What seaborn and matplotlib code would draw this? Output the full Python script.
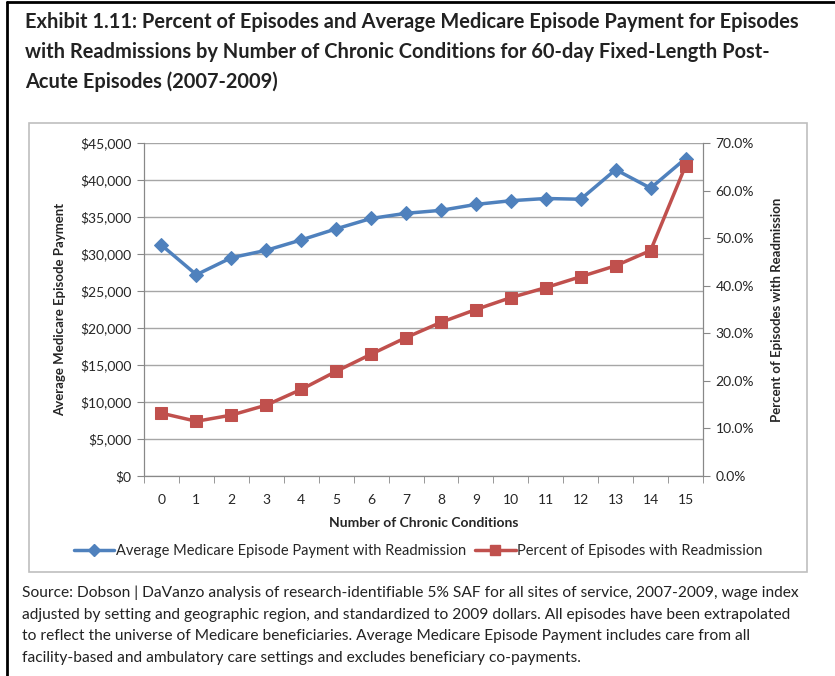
import matplotlib
matplotlib.use("Agg")
import matplotlib.pyplot as plt
import matplotlib.ticker as mticker
from matplotlib.lines import Line2D
from matplotlib.patches import Rectangle
import seaborn as sns
import pandas as pd

conditions = list(range(16))
avg_payment = [31200, 27200, 29500, 30500, 31900, 33400, 34800, 35500,
               35900, 36700, 37200, 37500, 37400, 41400, 38900, 42900]
pct_readmit = [13.2, 11.5, 12.8, 14.9, 18.2, 22.0, 25.6, 29.1,
               32.3, 35.0, 37.5, 39.6, 41.9, 44.2, 47.4, 65.2]

title = ("Exhibit 1.11: Percent of Episodes and Average Medicare Episode Payment for Episodes\n"
         "with Readmissions by Number of Chronic Conditions for 60-day Fixed-Length Post-\n"
         "Acute Episodes (2007-2009)")
source = ("Source: Dobson | DaVanzo analysis of research-identifiable 5% SAF for all sites of service, 2007-2009, wage index\n"
          "adjusted by setting and geographic region, and standardized to 2009 dollars. All episodes have been extrapolated\n"
          "to reflect the universe of Medicare beneficiaries. Average Medicare Episode Payment includes care from all\n"
          "facility-based and ambulatory care settings and excludes beneficiary co-payments.")

df = pd.DataFrame({"n": conditions, "pay": avg_payment, "pct": pct_readmit})

sns.set_style("white")
plt.rcParams["font.family"] = ["Lato", "DejaVu Sans"]

blue = "#4F81BD"
red = "#C0504D"
grey = "#888888"

fig = plt.figure(figsize=(8.35, 6.76), dpi=100)
ax = fig.add_axes([144 / 835, 1 - 476 / 676, (703 - 144) / 835, (476 - 143) / 676])
ax2 = ax.twinx()

sns.lineplot(data=df, x="n", y="pay", ax=ax, color=blue, marker="D", markersize=7,
             markeredgecolor=blue, linewidth=2.5)
sns.lineplot(data=df, x="n", y="pct", ax=ax2, color=red, marker="s", markersize=8,
             markeredgecolor=red, linewidth=2.5)

ax.set_xlim(-0.5, 15.5)
ax.set_ylim(0, 45000)
ax2.set_ylim(0, 70)
ax.yaxis.set_major_locator(mticker.MultipleLocator(5000))
ax.yaxis.set_major_formatter(mticker.FuncFormatter(lambda v, p: f"${v:,.0f}"))
ax2.yaxis.set_major_locator(mticker.MultipleLocator(10))
ax2.yaxis.set_major_formatter(mticker.FuncFormatter(lambda v, p: f"{v:.1f}%"))

ax.set_xticks(conditions)
ax.set_xticks([c - 0.5 for c in conditions] + [15.5], minor=True)
ax.tick_params(axis="x", which="major", length=0, pad=13, labelsize=10)
ax.tick_params(axis="x", which="minor", length=5, color=grey, bottom=True)
ax.tick_params(axis="y", length=5, color=grey, left=True, labelsize=10, pad=4)
ax2.tick_params(axis="y", length=5, color=grey, right=True, labelsize=10, pad=4)

ax.grid(axis="y", color="#A6A6A6", linewidth=1)
for a in (ax, ax2):
    for s in a.spines.values():
        s.set_color(grey)
    a.spines["top"].set_visible(False)

ax.set_xlabel("Number of Chronic Conditions", fontsize=10, fontweight="bold", labelpad=8)
ax.set_ylabel("Average Medicare Episode Payment", fontsize=9.5, fontweight="bold", labelpad=10)
ax2.set_ylabel("Percent of Episodes with Readmission", fontsize=9.5, fontweight="bold", labelpad=12)

handles = [Line2D([], [], color=blue, marker="D", markersize=6, linewidth=2.5),
           Line2D([], [], color=red, marker="s", markersize=7, linewidth=2.5)]
fig.legend(handles, ["Average Medicare Episode Payment with Readmission",
                     "Percent of Episodes with Readmission"],
           loc="center", bbox_to_anchor=(418 / 835, 1 - 551 / 676), ncol=2, frameon=False,
           fontsize=10.5, handlelength=2.8, handletextpad=0.1, columnspacing=0.6)

# inner chart box and outer page frame
fig.patches.append(Rectangle((29 / 835, 1 - 572 / 676), (807 - 29) / 835, (572 - 123) / 676,
                             transform=fig.transFigure, fill=False, edgecolor="#BFBFBF", linewidth=1.2))
fig.add_artist(Line2D([7 / 835, 7 / 835], [0, 1 - 2 / 676], transform=fig.transFigure,
                      color="black", linewidth=2))
fig.add_artist(Line2D([7 / 835, 1], [1 - 2 / 676, 1 - 2 / 676], transform=fig.transFigure,
                      color="black", linewidth=2))

fig.text(25 / 835, 1 - 12 / 676, title, ha="left", va="top", fontsize=14.4,
         fontweight="bold", linespacing=1.6, color="#222222")
fig.text(22 / 835, 1 - 586 / 676, source, ha="left", va="top", fontsize=11.2,
         linespacing=1.68, color="#222222")

fig.savefig("out.png", dpi=100)
